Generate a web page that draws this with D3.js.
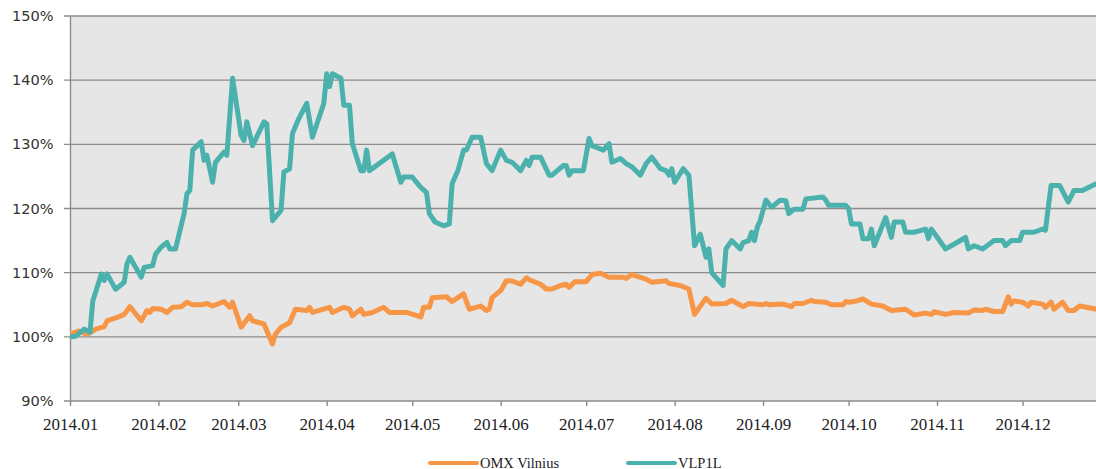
<!DOCTYPE html>
<html>
<head>
<meta charset="utf-8">
<script src="https://cdn.jsdelivr.net/npm/d3@7"></script>
<style>
  body { margin: 0; background: #fff; }
  svg { display: block; }
</style>
</head>
<body>
<svg width="1096" height="469"></svg>
<script>
// OMX Vilnius index vs VLP1L, 2014 (start = 100%)
var seriesNames = ["OMX Vilnius", "VLP1L"];
var seriesColors = ["#f79646", "#4bb1ad"];

var omxDates = ["2014-01-01","2014-01-04","2014-01-07","2014-01-10","2014-01-13","2014-01-14","2014-01-18","2014-01-20","2014-01-22","2014-01-26",
  "2014-01-28","2014-01-29","2014-01-30","2014-02-02","2014-02-04","2014-02-06","2014-02-09","2014-02-11","2014-02-13","2014-02-16",
  "2014-02-18","2014-02-20","2014-02-24","2014-02-26","2014-02-27","2014-03-02","2014-03-05","2014-03-06","2014-03-10","2014-03-13",
  "2014-03-14","2014-03-16","2014-03-19","2014-03-21","2014-03-25","2014-03-26","2014-03-27","2014-04-02","2014-04-03","2014-04-07",
  "2014-04-09","2014-04-10","2014-04-13","2014-04-14","2014-04-17","2014-04-21","2014-04-23","2014-04-29","2014-05-04","2014-05-05",
  "2014-05-07","2014-05-08","2014-05-13","2014-05-15","2014-05-17","2014-05-19","2014-05-21","2014-05-25","2014-05-27","2014-05-28",
  "2014-05-29","2014-06-01","2014-06-03","2014-06-05","2014-06-08","2014-06-10","2014-06-11","2014-06-15","2014-06-17","2014-06-19",
  "2014-06-22","2014-06-24","2014-06-25","2014-06-27","2014-07-01","2014-07-03","2014-07-06","2014-07-09","2014-07-14","2014-07-15",
  "2014-07-17","2014-07-22","2014-07-24","2014-07-29","2014-07-30","2014-08-03","2014-08-06","2014-08-08","2014-08-11","2014-08-12",
  "2014-08-14","2014-08-19","2014-08-21","2014-08-25","2014-08-27","2014-09-01","2014-09-02","2014-09-03","2014-09-08","2014-09-11",
  "2014-09-12","2014-09-15","2014-09-18","2014-09-19","2014-09-23","2014-09-25","2014-09-29","2014-09-30","2014-10-01","2014-10-04",
  "2014-10-06","2014-10-09","2014-10-13","2014-10-16","2014-10-21","2014-10-24","2014-10-28","2014-10-30","2014-10-31","2014-11-04",
  "2014-11-07","2014-11-12","2014-11-14","2014-11-17","2014-11-18","2014-11-21","2014-11-24","2014-11-26","2014-11-27","2014-11-28",
  "2014-12-01","2014-12-03","2014-12-04","2014-12-08","2014-12-09","2014-12-11","2014-12-12","2014-12-15","2014-12-17","2014-12-19",
  "2014-12-21","2014-12-27"];
var omxValues = [100.4,100.9,100.4,101.2,101.6,102.5,103.1,103.5,104.7,102.5,
  104.1,103.8,104.4,104.3,103.8,104.6,104.7,105.4,105,105,
  105.2,104.8,105.5,104.6,105.4,101.5,103.3,102.5,102,98.9,
  100.4,101.5,102.2,104.3,104.1,104.6,103.8,104.6,103.8,104.6,
  104.3,103.3,104.3,103.5,103.8,104.6,103.8,103.8,103.1,104.6,
  104.6,106.1,106.25,105.5,106.1,106.7,104.3,104.8,104.1,104.3,
  106.1,107.2,108.75,108.7,108.2,109.2,108.9,108.2,107.45,107.45,
  108,108.2,107.7,108.6,108.6,109.7,109.9,109.3,109.3,109.1,
  109.7,109,108.5,108.75,108.3,108,107.45,103.5,105.4,106,
  105.1,105.2,105.7,104.7,105.2,105,105.2,105,105.1,104.7,
  105.2,105.2,105.7,105.5,105.4,105,105,105.5,105.4,105.6,
  105.9,105.1,104.8,104.1,104.3,103.4,103.7,103.5,103.9,103.5,
  103.8,103.7,104.2,104.1,104.3,103.95,103.95,106.25,105.1,105.6,
  105.4,104.8,105.4,105.1,104.6,105.4,104.3,105.4,104.1,104.1,
  104.8,104.3];

var vlpDates = ["2014-01-01","2014-01-03","2014-01-06","2014-01-08","2014-01-09","2014-01-12","2014-01-13","2014-01-14","2014-01-17","2014-01-20",
  "2014-01-21","2014-01-22","2014-01-26","2014-01-27","2014-01-30","2014-01-31","2014-02-02","2014-02-04","2014-02-05","2014-02-07",
  "2014-02-10","2014-02-11","2014-02-12","2014-02-13","2014-02-16","2014-02-17","2014-02-18","2014-02-20","2014-02-21","2014-02-24",
  "2014-02-25","2014-02-27","2014-03-02","2014-03-03","2014-03-04","2014-03-06","2014-03-10","2014-03-11","2014-03-13","2014-03-16",
  "2014-03-17","2014-03-19","2014-03-20","2014-03-22","2014-03-25","2014-03-27","2014-03-31","2014-04-01","2014-04-02","2014-04-03",
  "2014-04-06","2014-04-07","2014-04-09","2014-04-10","2014-04-13","2014-04-14","2014-04-15","2014-04-16","2014-04-24","2014-04-27",
  "2014-04-28","2014-05-01","2014-05-04","2014-05-06","2014-05-07","2014-05-09","2014-05-12","2014-05-14","2014-05-15","2014-05-17",
  "2014-05-19","2014-05-20","2014-05-22","2014-05-25","2014-05-27","2014-05-29","2014-06-01","2014-06-03","2014-06-05","2014-06-08",
  "2014-06-10","2014-06-11","2014-06-12","2014-06-15","2014-06-18","2014-06-19","2014-06-23","2014-06-24","2014-06-25","2014-06-26",
  "2014-06-30","2014-07-02","2014-07-03","2014-07-07","2014-07-09","2014-07-10","2014-07-13","2014-07-15","2014-07-17","2014-07-20",
  "2014-07-22","2014-07-24","2014-07-27","2014-07-29","2014-07-30","2014-07-31","2014-08-01","2014-08-04","2014-08-06","2014-08-08",
  "2014-08-10","2014-08-12","2014-08-13","2014-08-14","2014-08-15","2014-08-18","2014-08-19","2014-08-21","2014-08-24","2014-08-25",
  "2014-08-27","2014-08-28","2014-08-29","2014-08-30","2014-08-31","2014-09-02","2014-09-04","2014-09-07","2014-09-09","2014-09-10",
  "2014-09-12","2014-09-15","2014-09-16","2014-09-22","2014-09-23","2014-09-24","2014-09-30","2014-10-01","2014-10-02","2014-10-05",
  "2014-10-06","2014-10-08","2014-10-09","2014-10-10","2014-10-14","2014-10-16","2014-10-17","2014-10-20","2014-10-21","2014-10-24",
  "2014-10-28","2014-10-29","2014-10-30","2014-11-04","2014-11-06","2014-11-08","2014-11-11","2014-11-12","2014-11-14","2014-11-17",
  "2014-11-21","2014-11-24","2014-11-25","2014-11-27","2014-11-30","2014-12-01","2014-12-05","2014-12-08","2014-12-09","2014-12-11",
  "2014-12-14","2014-12-17","2014-12-19","2014-12-22","2014-12-27"];
var vlpValues = [100,100.1,101.2,100.7,105.6,109.8,108.8,109.8,107.4,108.5,
  111.4,112.4,109.3,110.8,111.1,112.9,114,114.7,113.7,113.7,
  119.2,122.3,122.8,129.1,130.4,127.5,128.3,124.1,127.2,128.8,
  128.3,140.3,131.4,130.6,133.5,129.8,133.5,133.2,118.1,119.7,
  125.7,126.2,131.7,133.8,136.4,131.1,136.4,141,139,141,
  140.3,136.1,136.1,130.1,125.9,125.9,129.1,125.9,128.5,124.1,
  124.9,124.9,123.3,122.5,119.2,117.9,117.3,117.6,123.9,125.9,
  129.1,129.1,131.1,131.1,127,125.9,129.1,127.5,127.2,125.9,
  127.5,126.7,128,128,125.2,125.2,126.7,126.7,125.2,125.9,
  125.9,130.9,129.8,129.1,130.1,127.2,127.8,127,126.5,125.2,
  127,128,126.2,125.9,125.2,126.2,124.1,126.2,125.2,114.2,
  116,112.4,113.7,110,109.5,108,113.7,115,113.7,114.7,
  115,116.3,115,117.1,118.1,121.3,120.2,121.3,121.2,119.2,
  119.9,119.9,121.5,121.8,121.3,120.5,120.5,120,117.6,117.6,
  115.3,115.3,116.8,114.2,118.6,115.5,117.9,117.9,116.3,116.3,
  116.8,115.3,116.8,113.7,114.2,114.7,115.5,113.7,114.2,113.7,
  115,115,114.2,115,115,116.3,116.3,116.8,116.6,123.6,
  123.6,121,122.8,122.8,123.9];

var yTicks = [90, 100, 110, 120, 130, 140, 150];

var svg = d3.select("svg"),
    width = +svg.attr("width"),
    height = +svg.attr("height");
var plotLeft = 70, plotTop = 16, plotBottom = 401, plotRight = width;

var parse = d3.timeParse("%Y-%m-%d");
var x = d3.scaleTime()
    .domain([parse("2014-01-01"), parse("2014-12-31")])
    .range([plotLeft, plotLeft + 364 * 2.852]);
var y = d3.scaleLinear().domain([90, 150]).range([plotBottom, plotTop]);

var series = [
    {name: seriesNames[0], color: seriesColors[0], pts: omxDates.map((d, i) => ({date: parse(d), v: omxValues[i]}))},
    {name: seriesNames[1], color: seriesColors[1], pts: vlpDates.map((d, i) => ({date: parse(d), v: vlpValues[i]}))}
];

svg.append("clipPath").attr("id", "plot")
  .append("rect")
    .attr("x", plotLeft).attr("y", 0)
    .attr("width", plotRight - plotLeft).attr("height", plotBottom + 2);

// plot background
svg.append("rect")
    .attr("x", plotLeft).attr("y", plotTop)
    .attr("width", plotRight - plotLeft).attr("height", plotBottom - plotTop)
    .attr("fill", "#e6e6e6");

// horizontal grid
svg.append("g")
  .selectAll("line")
  .data(yTicks)
  .enter()
  .append("line")
    .attr("x1", plotLeft - 6).attr("x2", plotRight)
    .attr("y1", d => y(d)).attr("y2", d => y(d))
    .attr("stroke", "#8c8c8c")
    .attr("stroke-width", 1.4);

// y axis
var yAxis = svg.append("g")
    .attr("transform", "translate(" + plotLeft + ",0)")
    .call(d3.axisLeft(y).tickValues(yTicks).tickSize(6).tickSizeOuter(0).tickPadding(10.5).tickFormat(d => d + "%"));
yAxis.select(".domain").attr("stroke", "#8c8c8c").attr("stroke-width", 1.4);
yAxis.selectAll(".tick line").remove();
yAxis.selectAll("text")
    .attr("font-family", "'DejaVu Sans', Verdana, sans-serif")
    .attr("font-size", 14.5)
    .attr("fill", "#333");

// x axis
var xAxis = svg.append("g")
    .attr("transform", "translate(0," + plotBottom + ")")
    .call(d3.axisBottom(x)
        .ticks(d3.timeMonth.every(1))
        .tickSizeInner(5).tickSizeOuter(0).tickPadding(12)
        .tickFormat(d3.timeFormat("%Y.%m")));
xAxis.select(".domain").remove();
xAxis.selectAll(".tick line").attr("stroke", "#8c8c8c").attr("stroke-width", 1.4);
xAxis.selectAll("text")
    .attr("font-family", "'Liberation Serif', 'Times New Roman', serif")
    .attr("font-size", 17)
    .attr("fill", "#222");

// lines
var line = d3.line()
    .x(d => x(d.date))
    .y(d => y(d.v));

svg.append("g")
    .attr("clip-path", "url(#plot)")
  .selectAll("path")
  .data(series)
  .enter()
  .append("path")
    .attr("d", d => line(d.pts))
    .attr("fill", "none")
    .attr("stroke", d => d.color)
    .attr("stroke-width", 5)
    .attr("stroke-linejoin", "round");

// legend
var legendX = [430, 628];
var legend = svg.append("g")
  .selectAll("g")
  .data(series)
  .enter()
  .append("g")
    .attr("transform", (d, i) => "translate(" + legendX[i] + ",463)");
legend.append("line")
    .attr("x1", 0).attr("x2", 47)
    .attr("stroke", d => d.color)
    .attr("stroke-width", 4)
    .attr("stroke-linecap", "round");
legend.append("text")
    .attr("x", 50).attr("y", 4.5)
    .attr("font-family", "'Liberation Serif', 'Times New Roman', serif")
    .attr("font-size", 14.5)
    .attr("fill", "#222")
    .text(d => d.name);
</script>
</body>
</html>
